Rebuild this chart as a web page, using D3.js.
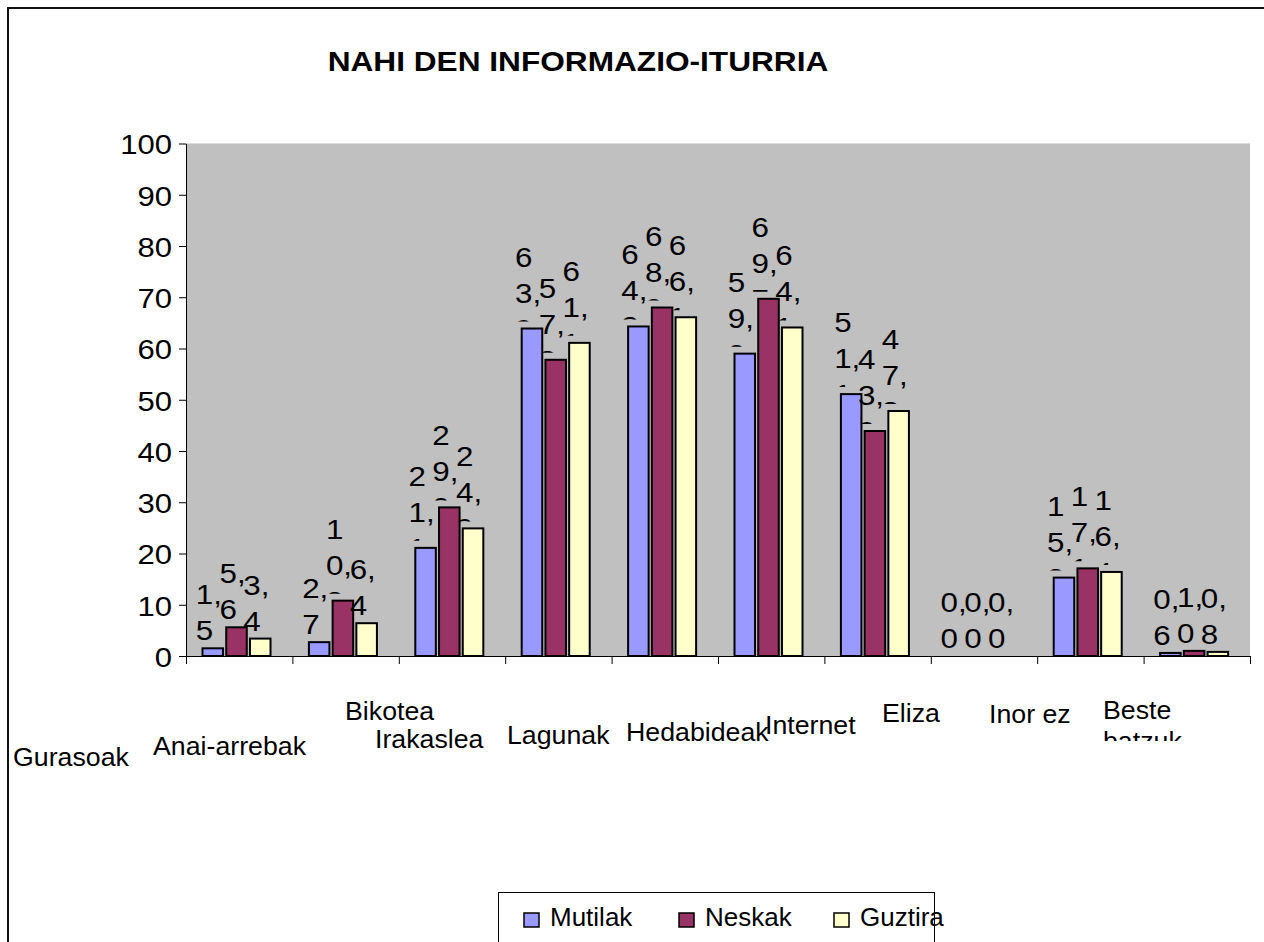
<!DOCTYPE html>
<html>
<head>
<meta charset="utf-8">
<script src="https://cdn.jsdelivr.net/npm/d3@7"></script>
<style>
  body { margin: 0; background: #fff; }
  text { font-family: 'Liberation Sans', Arial, sans-serif; fill: #000; }
</style>
</head>
<body>
<div class="container"></div>
<script>

const categories = ['Gurasoak', 'Anai-arrebak', 'Bikotea', 'Irakaslea', 'Lagunak',
                    'Hedabideak', 'Internet', 'Eliza', 'Inor ez', 'Beste batzuk'];
const seriesNames = ['Mutilak', 'Neskak', 'Guztira'];

const mutilak = [1.5, 2.7, 21.1, 63.9, 64.3, 59.0, 51.1, 0.0, 15.3, 0.6];
const neskak  = [5.6, 10.8, 29.0, 57.8, 68.0, 69.7, 43.9, 0.0, 17.1, 1.0];
const guztira = [3.4, 6.4, 24.9, 61.1, 66.1, 64.1, 47.8, 0.0, 16.4, 0.8];

const yTicks = [0, 10, 20, 30, 40, 50, 60, 70, 80, 90, 100];

// layout only: where excel dropped the category labels
const catLabelPos = [[13, 766], [153, 755], [345, 720], [375, 748], [507, 744],
                     [626, 741], [765, 734], [882, 722], [989, 723], [1103, 719]];
const legendX = [524, 679, 834];

const colors = ['#9999FF', '#993366', '#FFFFCC'];

const renderChart = () => {

  const width = 1264;
  const height = 942;
  const left = 186, right = 1250, top = 143.5, bottom = 656;

  const seriesValues = [mutilak, neskak, guztira];

  const svg = d3.select('.container')
    .append('svg')
    .attr('width', width)
    .attr('height', height)
    .style('display', 'block');

  // chart frame
  svg.append('rect')
    .attr('x', 8).attr('y', 8)
    .attr('width', 1400).attr('height', 1100)
    .attr('fill', 'none')
    .attr('stroke', '#111')
    .attr('stroke-width', 2);

  svg.append('text')
    .attr('transform', 'translate(578,71) scale(1.13,1)')
    .attr('text-anchor', 'middle')
    .attr('font-size', 28)
    .attr('font-weight', 'bold')
    .text('NAHI DEN INFORMAZIO-ITURRIA');

  const yScale = d3.scaleLinear()
                   .domain([0, 100])
                   .range([bottom, top]);

  const x0 = d3.scaleBand()
               .domain(categories)
               .range([left, right])
               .paddingInner(0.342)
               .paddingOuter(0.171)
               .align(0.426);

  const x1 = d3.scaleBand()
               .domain(seriesNames)
               .range([0, x0.bandwidth()])
               .paddingInner(0.05);

  const xTickScale = d3.scaleLinear()
                       .domain([0, categories.length])
                       .range([left, right]);

  // plot area
  svg.append('rect')
    .attr('x', left).attr('y', top)
    .attr('width', right - left).attr('height', bottom - top)
    .attr('fill', '#C0C0C0');

  const rows = [];
  categories.forEach((c, i) => {
    seriesNames.forEach((s, j) => rows.push({ cat: c, series: s, j: j, value: seriesValues[j][i] }));
  });

  svg.append('g')
    .selectAll('rect')
    .data(rows)
    .enter()
    .append('rect')
    .attr('x', d => x0(d.cat) + x1(d.series) + 1)
    .attr('y', d => yScale(d.value))
    .attr('width', x1.bandwidth() - 2)
    .attr('height', d => yScale(0) - yScale(d.value))
    .attr('fill', d => colors[d.j])
    .attr('stroke', '#000')
    .attr('stroke-width', 2);

  // axes
  const yAxis = svg.append('g')
    .attr('transform', `translate(${left},0)`)
    .call(d3.axisLeft(yScale).tickValues(yTicks).tickSize(7).tickSizeOuter(0).tickPadding(7));
  yAxis.attr('font-size', null).attr('font-family', null);
  yAxis.selectAll('text')
    .attr('x', null)
    .attr('dy', '0.38em')
    .attr('font-size', 27)
    .attr('transform', 'translate(-14,0) scale(1.15,1)');

  svg.append('g')
    .attr('transform', `translate(0,${bottom})`)
    .call(d3.axisBottom(xTickScale).tickValues(d3.range(categories.length + 1))
                                   .tickFormat('').tickSize(8).tickSizeOuter(0));
  svg.selectAll('.domain, .tick line').attr('stroke', '#000');

  // data labels, wrapped a digit per line like excel did, bottom clipped
  const defs = svg.append('defs');
  const labels = svg.append('g');
  rows.forEach((d, k) => {
    const txt = d.value.toFixed(1).replace('.', ',');
    const lines = txt.match(/\d,?/g);
    const cx = x0(d.cat) + x1(d.series) + x1.bandwidth() / 2;
    const ty = yScale(d.value);
    defs.append('clipPath').attr('id', 'lc' + k)
      .append('rect')
      .attr('x', -40).attr('y', -220).attr('width', 120).attr('height', 213);
    const g = labels.append('g')
      .attr('transform', `translate(${cx - 17},${ty})`)
      .attr('clip-path', `url(#lc${k})`);
    lines.forEach((l, i) => {
      g.append('text')
        .attr('transform', `translate(0,${-26 + (i - (lines.length - 1) / 2) * 36}) scale(1.12,1)`)
        .attr('font-size', 28)
        .text(l);
    });
  });

  // category labels (the last one wraps and its second line is cut off)
  defs.append('clipPath').attr('id', 'catclip')
    .append('rect').attr('x', 0).attr('y', 0).attr('width', width).attr('height', 741);
  categories.forEach((c, i) => {
    const p = catLabelPos[i];
    const wrap = i === categories.length - 1;
    const parts = wrap ? c.split(' ') : [c];
    const g = svg.append('g');
    if (wrap) g.attr('clip-path', 'url(#catclip)');
    parts.forEach((t, k) => {
      g.append('text')
        .attr('transform', `translate(${p[0]},${p[1] + k * 31}) scale(1.07,1)`)
        .attr('font-size', 25)
        .text(t);
    });
  });

  // legend
  const legend = svg.append('g');
  legend.append('rect')
    .attr('x', 498.5).attr('y', 892.5)
    .attr('width', 436).attr('height', 100)
    .attr('fill', '#fff')
    .attr('stroke', '#000');
  seriesNames.forEach((s, j) => {
    legend.append('rect')
      .attr('x', legendX[j]).attr('y', 913)
      .attr('width', 15).attr('height', 14)
      .attr('fill', colors[j])
      .attr('stroke', '#000')
      .attr('stroke-width', 1.5);
    legend.append('text')
      .attr('x', legendX[j] + 26).attr('y', 926)
      .attr('font-size', 26)
      .text(s);
  });

};

renderChart();
</script>
</body>
</html>
